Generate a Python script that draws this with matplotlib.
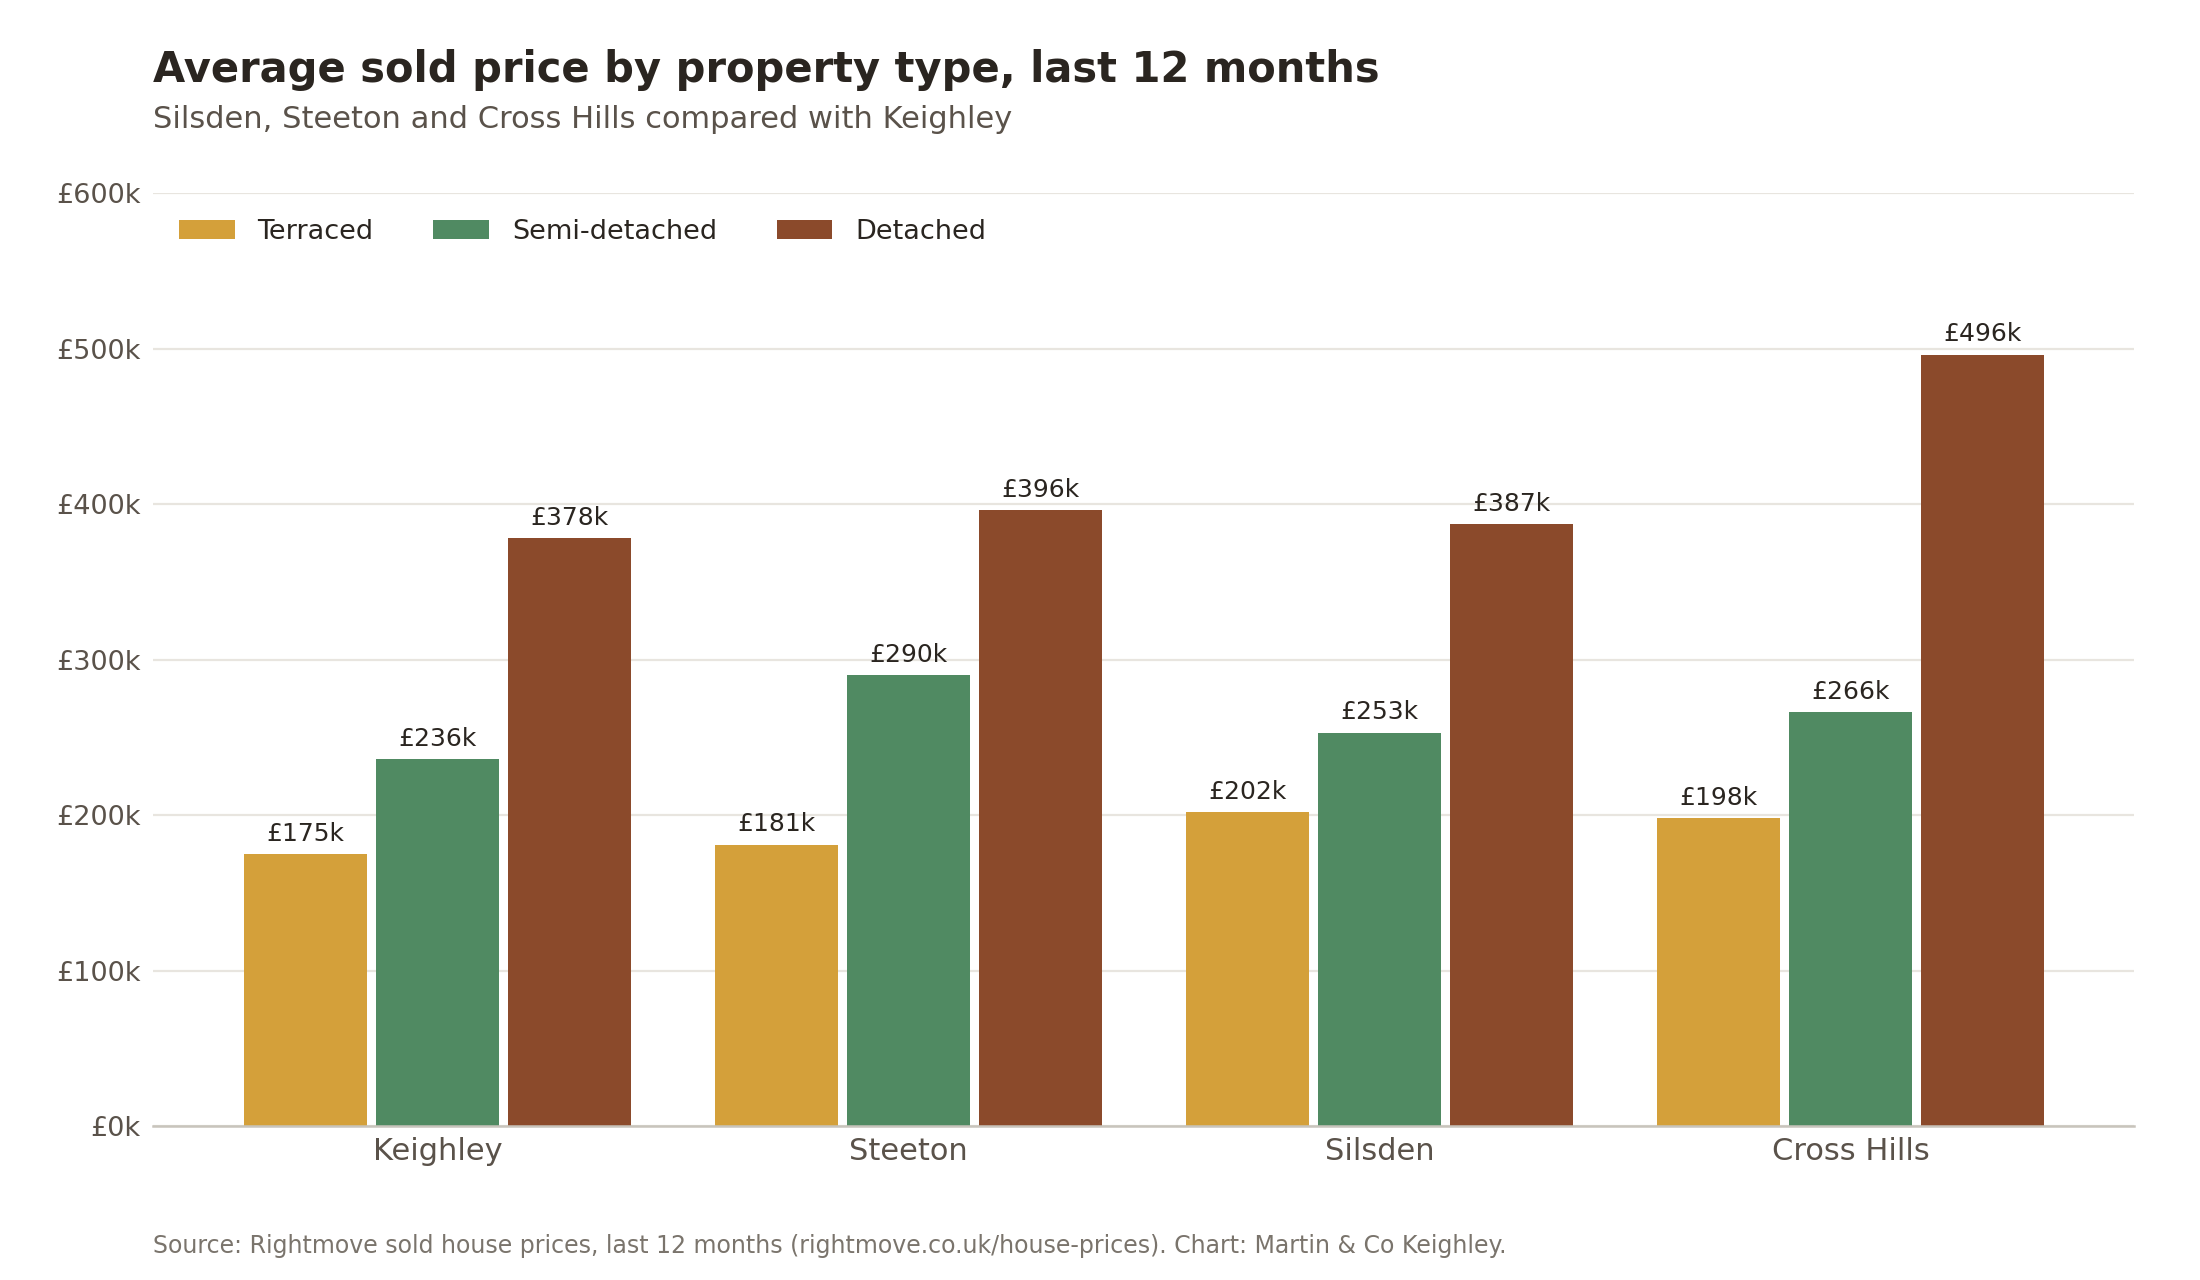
import numpy as np
import matplotlib
matplotlib.use("Agg")
import matplotlib.pyplot as plt

# --- data (average sold price, £k) ---
towns = ["Keighley", "Steeton", "Silsden", "Cross Hills"]
terraced = [175, 181, 202, 198]
semi_detached = [236, 290, 253, 266]
detached = [378, 396, 387, 496]

series = [
    ("Terraced", terraced, "#D4A03A"),
    ("Semi-detached", semi_detached, "#508A62"),
    ("Detached", detached, "#8B4A2B"),
]

y_ticks = [0, 100, 200, 300, 400, 500, 600]

plt.rcParams["font.family"] = ["DejaVu Sans"]

fig = plt.figure(figsize=(22, 12.8), dpi=100)
ax = fig.add_axes([0.0695, 0.1203, 0.9005, 0.7289])

x = np.arange(len(towns))
width = 0.261
step = 0.280

for i, (name, vals, colour) in enumerate(series):
    pos = x + (i - 1) * step
    bars = ax.bar(pos, vals, width, color=colour, label=name, zorder=3)
    for b, v in zip(bars, vals):
        ax.annotate(f"£{v}k", (b.get_x() + b.get_width() / 2, v),
                    xytext=(0, 6), textcoords="offset points",
                    ha="center", va="bottom", fontsize=18, color="#2a2520")

ax.set_xlim(-0.604, 3.602)
ax.set_ylim(0, 600)
ax.set_yticks(y_ticks)
ax.set_yticklabels([f"£{t}k" for t in y_ticks])
ax.set_xticks(x)
ax.set_xticklabels(towns)

ax.tick_params(axis="y", length=0, pad=9, labelsize=19.5, labelcolor="#5a524a")
ax.tick_params(axis="x", length=0, pad=8, labelsize=22, labelcolor="#5a524a")
ax.grid(axis="y", color="#e8e5df", linewidth=1.6, zorder=0)
ax.set_axisbelow(True)
for side in ["top", "right", "left"]:
    ax.spines[side].set_visible(False)
ax.spines["bottom"].set_color("#c8c4bc")
ax.spines["bottom"].set_linewidth(1.8)
ax.spines["bottom"].set_zorder(4)

fig.legend(loc="center left", bbox_to_anchor=(0.0814, 0.819), ncol=3,
           frameon=False, fontsize=19.5, borderpad=0, borderaxespad=0,
           handlelength=2.05, handleheight=0.72, handletextpad=0.85,
           columnspacing=2.2, labelcolor="#2a2520")

fig.text(0.0695, 0.936, "Average sold price by property type, last 12 months",
         fontsize=30, fontweight="bold", color="#2a2520", va="baseline")
fig.text(0.0695, 0.900, "Silsden, Steeton and Cross Hills compared with Keighley",
         fontsize=22, color="#5a524a", va="baseline")
fig.text(0.0695, 0.021,
         "Source: Rightmove sold house prices, last 12 months (rightmove.co.uk/house-prices). Chart: Martin & Co Keighley.",
         fontsize=17, color="#7a746c", va="baseline")

fig.savefig("out.png", dpi=100, facecolor="white")
